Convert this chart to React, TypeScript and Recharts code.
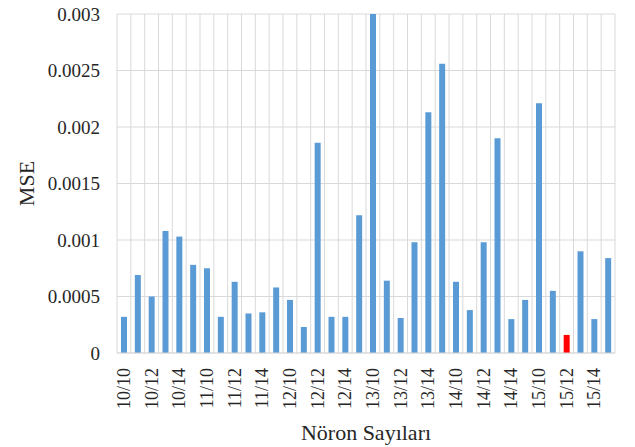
import { BarChart, Bar, XAxis, YAxis, CartesianGrid, Cell, Label } from 'recharts'

const CATEGORIES = [
  '10/10', '10/11', '10/12', '10/13', '10/14', '10/15',
  '11/10', '11/11', '11/12', '11/13', '11/14', '11/15',
  '12/10', '12/11', '12/12', '12/13', '12/14', '12/15',
  '13/10', '13/11', '13/12', '13/13', '13/14', '13/15',
  '14/10', '14/11', '14/12', '14/13', '14/14', '14/15',
  '15/10', '15/11', '15/12', '15/13', '15/14', '15/15',
]

const MSE = [
  0.00032, 0.00069, 0.0005, 0.00108, 0.00103, 0.00078,
  0.00075, 0.00032, 0.00063, 0.00035, 0.00036, 0.00058,
  0.00047, 0.00023, 0.00186, 0.00032, 0.00032, 0.00122,
  0.003, 0.00064, 0.00031, 0.00098, 0.00213, 0.00256,
  0.00063, 0.00038, 0.00098, 0.0019, 0.0003, 0.00047,
  0.00221, 0.00055, 0.00016, 0.0009, 0.0003, 0.00084,
]

const Y_TICKS = [0, 0.0005, 0.001, 0.0015, 0.002, 0.0025, 0.003]

const HIGHLIGHT = '15/12'

const data = CATEGORIES.map((name, i) => ({ name, mse: MSE[i] }))

const FONT = '"Liberation Serif", "Times New Roman", serif'
const TEXT = '#262626'
const GRID = '#d9d9d9'
const BLUE = '#5b9bd5'
const RED = '#ff0000'

function XTick(props: any) {
  const { x, y, payload } = props
  return (
    <text
      x={x}
      y={y}
      transform={`rotate(-90 ${x} ${y})`}
      textAnchor="end"
      dominantBaseline="central"
      style={{ fontFamily: FONT, fontSize: 18 }}
      fill={TEXT}
    >
      {payload.value}
    </text>
  )
}

function YTick(props: any) {
  const { x, y, payload } = props
  return (
    <text
      x={x}
      y={y}
      textAnchor="end"
      dominantBaseline="central"
      style={{ fontFamily: FONT, fontSize: 19 }}
      fill={TEXT}
    >
      {String(payload.value)}
    </text>
  )
}

export default function App() {
  return (
    <div style={{ position: 'absolute', left: 0, top: 0, background: '#fff' }}>
      <BarChart
        width={635}
        height={447}
        data={data}
        margin={{ top: 14, right: 20, bottom: 0, left: 0 }}
        barCategoryGap={0}
      >
        <CartesianGrid
          stroke={GRID}
          strokeWidth={1}
          verticalCoordinatesGenerator={({ offset }: any) =>
            Array.from(
              { length: CATEGORIES.length + 1 },
              (_, i) => offset.left + (i * offset.width) / CATEGORIES.length
            )
          }
        />
        <XAxis
          dataKey="name"
          interval={1}
          height={94}
          tickLine={false}
          tickSize={0}
          tickMargin={15}
          axisLine={{ stroke: GRID }}
          tick={<XTick />}
        >
          <Label
            content={(p: any) => {
              const vb = p.viewBox
              return (
                <text
                  x={vb.x + vb.width / 2}
                  y={vb.y + 79}
                  textAnchor="middle"
                  dominantBaseline="central"
                  style={{ fontFamily: FONT, fontSize: 22 }}
                  fill={TEXT}
                >
                  Nöron Sayıları
                </text>
              )
            }}
          />
        </XAxis>
        <YAxis
          width={117}
          domain={[0, 0.003]}
          ticks={Y_TICKS}
          interval={0}
          axisLine={false}
          tickLine={false}
          tickSize={0}
          tickMargin={17}
          tick={<YTick />}
        >
          <Label
            content={(p: any) => {
              const vb = p.viewBox
              const cx = vb.x + 26
              const cy = vb.y + vb.height / 2
              return (
                <text
                  x={cx}
                  y={cy}
                  transform={`rotate(-90 ${cx} ${cy})`}
                  textAnchor="middle"
                  dominantBaseline="central"
                  style={{ fontFamily: FONT, fontSize: 22 }}
                  fill={TEXT}
                >
                  MSE
                </text>
              )
            }}
          />
        </YAxis>
        <Bar dataKey="mse" barSize={6} isAnimationActive={false}>
          {data.map((d) => (
            <Cell key={d.name} fill={d.name === HIGHLIGHT ? RED : BLUE} />
          ))}
        </Bar>
      </BarChart>
    </div>
  )
}
